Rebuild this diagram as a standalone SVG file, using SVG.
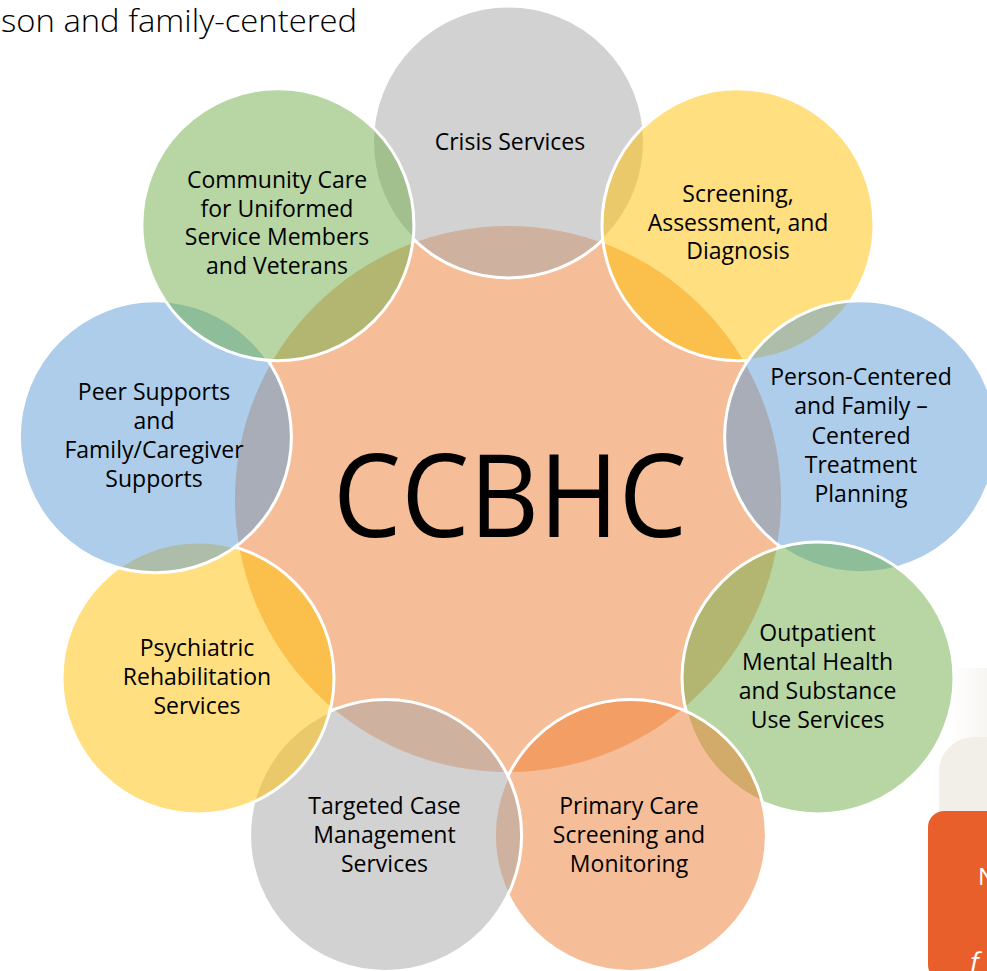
<svg xmlns="http://www.w3.org/2000/svg" width="987" height="971" viewBox="0 0 987 971">
  <defs>
    <style>
      .hub { fill: #ED7D31; fill-opacity: 0.5; }
      .ring { fill-opacity: 0.5; stroke: #ffffff; stroke-width: 3; }
      .gray { fill: #A5A5A5; }
      .gold { fill: #FFC000; }
      .blue { fill: #5B9BD5; }
      .green { fill: #70AD47; }
      .orange { fill: #ED7D31; }
      .label { font-family: "Open Sans", "Noto Sans", "Liberation Sans", sans-serif; font-size: 23px; fill: #000000; text-anchor: middle; }
      .big { font-family: "Open Sans", "Noto Sans", "Liberation Sans", sans-serif; font-size: 116px; fill: #000000; }
      .heading { font-family: "Open Sans", "Noto Sans", "Liberation Sans", sans-serif; font-weight: 300; font-size: 31px; fill: #000000; }
      .side { font-family: "Open Sans", "Noto Sans", "Liberation Sans", sans-serif; fill: #ffffff; }
    </style>
    <linearGradient id="fade" x1="0" y1="0" x2="1" y2="0">
      <stop offset="0" stop-color="#ffffff"/>
      <stop offset="1" stop-color="#F7F4F0"/>
    </linearGradient>
  </defs>

  <rect width="987" height="971" fill="#ffffff"/>

  <!-- page heading, running off the left edge -->
  <text class="heading" x="1" y="32" textLength="356" lengthAdjust="spacingAndGlyphs">son and family-centered</text>

  <!-- side panel at the right edge -->
  <g id="side-panel">
    <rect x="948" y="668" width="45" height="90" fill="url(#fade)"/>
    <path d="M939 811 V772 A35 35 0 0 1 974 737 H987 V811 Z" fill="#F2EEE8"/>
    <rect x="928" y="811" width="80" height="170" rx="16" fill="#E95F2B"/>
    <text class="side" x="978" y="885" font-size="24">N</text>
    <text class="side" x="970" y="972" font-size="28" font-style="italic">f</text>
  </g>

  <!-- hub -->
  <g id="hub">
    <circle class="hub" cx="508" cy="499" r="273"/>
    <text class="big" x="510" y="537" text-anchor="middle" textLength="354" lengthAdjust="spacingAndGlyphs">CCBHC</text>
  </g>

  <!-- service circles, clockwise from the top -->
  <g id="crisis-services">
    <circle class="ring gray" cx="508.5" cy="142" r="136"/>
    <text class="label" x="510" y="150">Crisis Services</text>
  </g>

  <g id="screening-assessment">
    <circle class="ring gold" cx="738" cy="224.7" r="136"/>
    <text class="label" x="738" y="202">Screening,</text>
    <text class="label" x="738" y="230.5">Assessment, and</text>
    <text class="label" x="738" y="259">Diagnosis</text>
  </g>

  <g id="treatment-planning">
    <circle class="ring blue" cx="860.6" cy="436.8" r="136"/>
    <text class="label" x="861" y="385">Person-Centered</text>
    <text class="label" x="861" y="414">and Family –</text>
    <text class="label" x="861" y="443.5">Centered</text>
    <text class="label" x="861" y="473">Treatment</text>
    <text class="label" x="861" y="502">Planning</text>
  </g>

  <g id="outpatient-services">
    <circle class="ring green" cx="818" cy="678" r="136"/>
    <text class="label" x="817.5" y="640.5">Outpatient</text>
    <text class="label" x="817.5" y="669.5">Mental Health</text>
    <text class="label" x="817.5" y="698.5">and Substance</text>
    <text class="label" x="817.5" y="727.5">Use Services</text>
  </g>

  <g id="primary-care">
    <circle class="ring orange" cx="630.4" cy="835.4" r="136"/>
    <text class="label" x="629" y="813.5">Primary Care</text>
    <text class="label" x="629" y="843">Screening and</text>
    <text class="label" x="629" y="872">Monitoring</text>
  </g>

  <g id="case-management">
    <circle class="ring gray" cx="385.6" cy="835.4" r="136"/>
    <text class="label" x="384.5" y="813.5">Targeted Case</text>
    <text class="label" x="384.5" y="843">Management</text>
    <text class="label" x="384.5" y="872">Services</text>
  </g>

  <g id="psychiatric-rehabilitation">
    <circle class="ring gold" cx="198" cy="678" r="136"/>
    <text class="label" x="197" y="656">Psychiatric</text>
    <text class="label" x="197" y="685">Rehabilitation</text>
    <text class="label" x="197" y="714">Services</text>
  </g>

  <g id="peer-supports">
    <circle class="ring blue" cx="155.4" cy="436.8" r="136"/>
    <text class="label" x="154" y="399.5">Peer Supports</text>
    <text class="label" x="154" y="428.5">and</text>
    <text class="label" x="154" y="457.5">Family/Caregiver</text>
    <text class="label" x="154" y="486.5">Supports</text>
  </g>

  <g id="veterans-care">
    <circle class="ring green" cx="277.9" cy="224.7" r="136"/>
    <text class="label" x="277" y="188">Community Care</text>
    <text class="label" x="277" y="216.5">for Uniformed</text>
    <text class="label" x="277" y="245">Service Members</text>
    <text class="label" x="277" y="274">and Veterans</text>
  </g>
</svg>
